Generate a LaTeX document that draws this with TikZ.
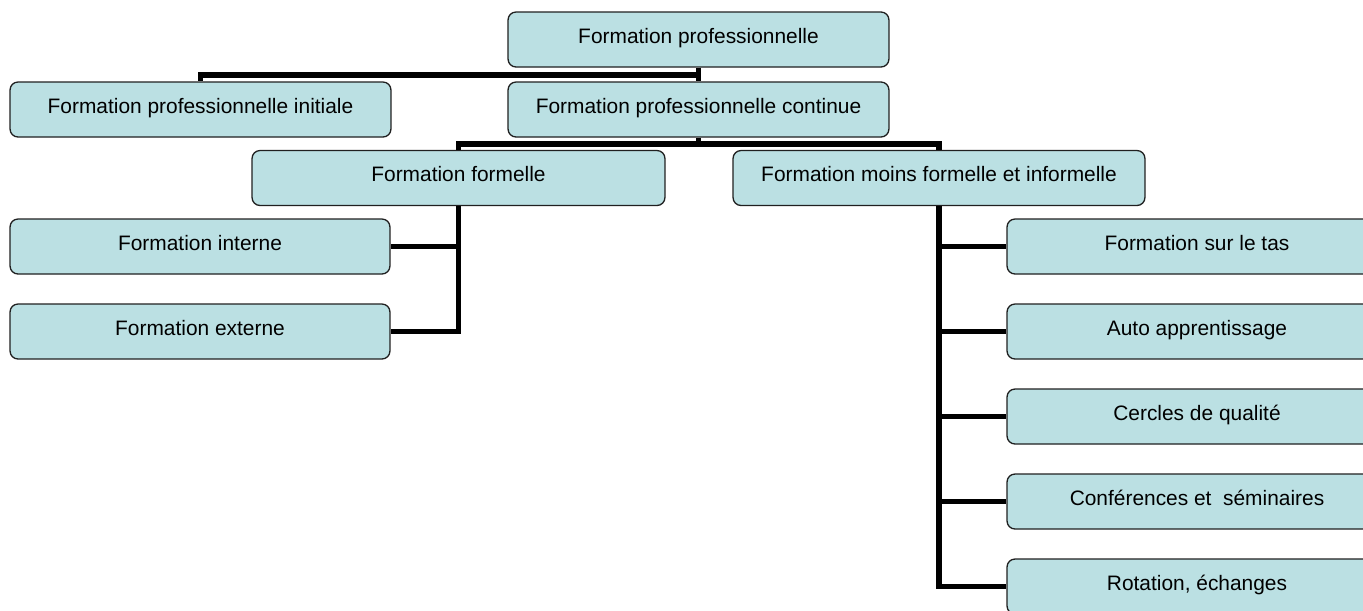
\documentclass[tikz,border=0pt]{standalone}
\usepackage{fontspec}
\setmainfont{Liberation Sans}
\definecolor{boxfill}{RGB}{187,224,227}
\definecolor{boxline}{RGB}{32,32,32}

\begin{document}
\begin{tikzpicture}[x=0.02cm, y=-0.02cm,
    box/.style={draw=boxline, fill=boxfill, line width=0.75pt, rounded corners=0.16cm,
      minimum height=1.1cm, inner sep=0pt, text height=0.35cm, text depth=0.21cm,
      font=\fontsize{11.9}{14}\selectfont},
    link/.style={line width=0.11cm, black, line join=miter}]
    % Frame
    \path[use as bounding box, clip] (0,0) rectangle (1363,610);

    % Boxes
    \node[box, minimum width=7.62cm] (prof) at (698.5,39.5) {Formation professionnelle};
    \node[box, minimum width=7.62cm] (init) at (200.5,109.5) {Formation professionnelle initiale};
    \node[box, minimum width=7.62cm] (cont) at (698.5,109.5) {Formation professionnelle continue};
    \node[box, minimum width=8.26cm] (ff) at (458.5,178) {Formation formelle};
    \node[box, minimum width=8.24cm] (mf) at (939,178) {Formation moins formelle et informelle};
    \node[box, minimum width=7.6cm] (int) at (200,246.5) {Formation interne};
    \node[box, minimum width=7.6cm] (ext) at (200,331.5) {Formation externe};
    \foreach \txt [count=\i] in {Formation sur le tas, Auto apprentissage, Cercles de qualité,
        Conférences et~ séminaires, {Rotation, échanges}}
      \node[box, minimum width=7.6cm] (r\i) at (1197,161.5+85*\i) {\txt};

    % Connectors
    \draw[link] (prof.south) -- ++(0,7.5) -| (init.north);
    \draw[link] (prof.south) -- (cont.north);
    \draw[link] (cont.south) -- ++(0,6.5) coordinate (j) -| (ff.north);
    \draw[link] (j) -| (mf.north);
    \draw[link] (ff.south) |- (int.east);
    \draw[link] (ff.south) |- (ext.east);
    \foreach \i in {1,...,5}
      \draw[link] (mf.south) |- (r\i.west);
  \end{tikzpicture}
\end{document}
